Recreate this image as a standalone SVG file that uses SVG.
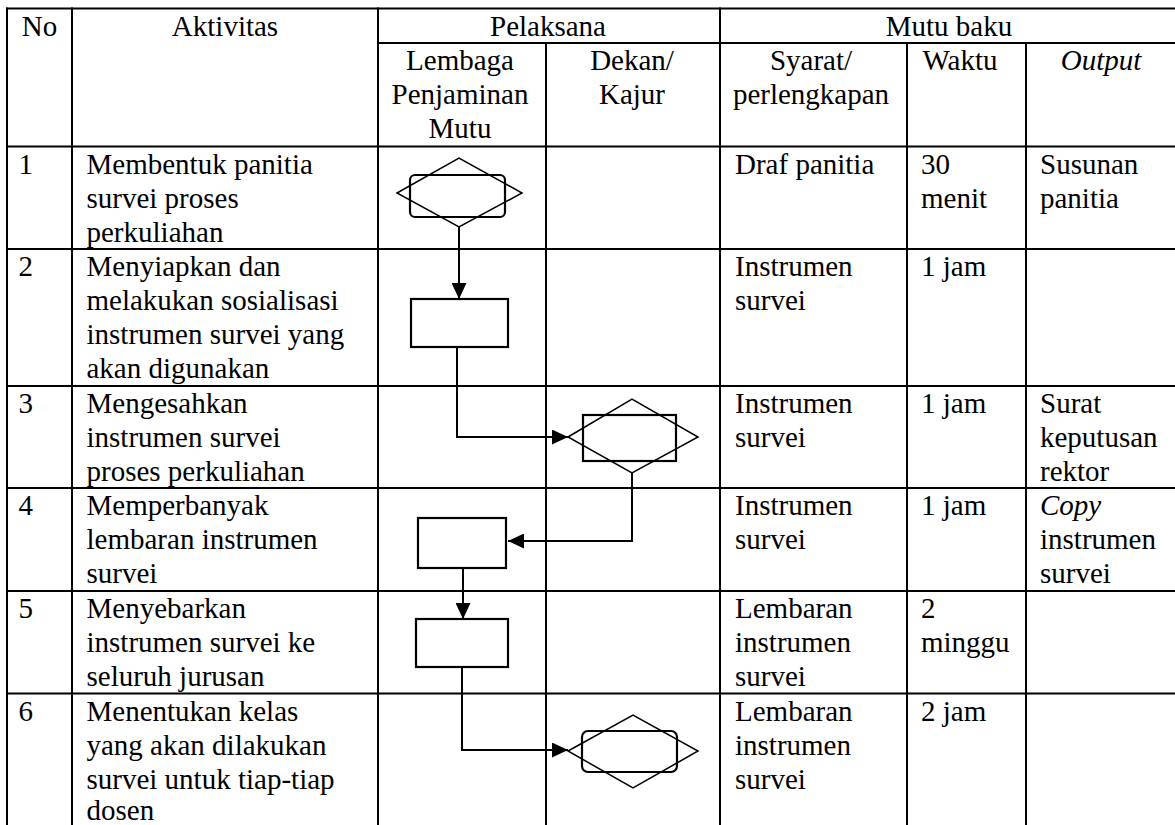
<svg xmlns="http://www.w3.org/2000/svg" width="1175" height="825" viewBox="0 0 1175 825" font-family="'Liberation Serif', 'Times New Roman', 'DejaVu Serif', serif">
<style>
text{font-family:'Liberation Serif','Times New Roman','DejaVu Serif',serif;font-size:29px;fill:#000}
.c{text-anchor:middle}
.i{font-style:italic}
.grid line{stroke:#000;stroke-width:2}
.sh{fill:none;stroke:#000;stroke-width:2.2}
.dm{fill:none;stroke:#000;stroke-width:1.5}
.cn{fill:none;stroke:#000;stroke-width:2}
</style>
<defs>
<marker id="ah" markerUnits="userSpaceOnUse" markerWidth="16" markerHeight="15" refX="16" refY="7.5" orient="auto">
<path d="M0,0 L16,7.5 L0,15 z" fill="#000"/>
</marker>
</defs>
<rect width="1175" height="825" fill="#fff"/>
<g id="table" class="grid">
<line x1="6" y1="8.5" x2="1175" y2="8.5"/>
<line x1="378" y1="43" x2="1175" y2="43"/>
<line x1="6" y1="146.5" x2="1175" y2="146.5"/>
<line x1="6" y1="249" x2="1175" y2="249"/>
<line x1="6" y1="386" x2="1175" y2="386"/>
<line x1="6" y1="488" x2="1175" y2="488"/>
<line x1="6" y1="591" x2="1175" y2="591"/>
<line x1="6" y1="693.5" x2="1175" y2="693.5"/>
<line x1="7" y1="7.5" x2="7" y2="825"/>
<line x1="72" y1="7.5" x2="72" y2="825"/>
<line x1="378" y1="7.5" x2="378" y2="825"/>
<line x1="546" y1="43" x2="546" y2="825"/>
<line x1="720" y1="7.5" x2="720" y2="825"/>
<line x1="907" y1="43" x2="907" y2="825"/>
<line x1="1026" y1="43" x2="1026" y2="825"/>
</g>
<g id="header">
<text x="39.5" y="35.5" class="c">No</text>
<text x="225" y="35.5" class="c">Aktivitas</text>
<text x="548" y="35.5" class="c">Pelaksana</text>
<text x="949" y="35.5" class="c">Mutu baku</text>
<text x="460" y="70" class="c">Lembaga</text>
<text x="460" y="104" class="c">Penjaminan</text>
<text x="460" y="138" class="c">Mutu</text>
<text x="632" y="70" class="c">Dekan/</text>
<text x="632" y="104" class="c">Kajur</text>
<text x="811" y="70" class="c">Syarat/</text>
<text x="811" y="104" class="c">perlengkapan</text>
<text x="960" y="70" class="c">Waktu</text>
<text x="1101" y="70" class="c i">Output</text>
</g>
<g id="row1">
<text x="18.5" y="173.5">1</text>
<text x="86.5" y="173.5">Membentuk panitia</text>
<text x="86.5" y="207.5">survei proses</text>
<text x="86.5" y="241.5">perkuliahan</text>
<text x="735" y="173.5">Draf panitia</text>
<text x="921" y="173.5">30</text>
<text x="921" y="207.5">menit</text>
<text x="1040" y="173.5">Susunan</text>
<text x="1040" y="207.5">panitia</text>
</g>
<g id="row2">
<text x="18.5" y="276">2</text>
<text x="86.5" y="276">Menyiapkan dan</text>
<text x="86.5" y="310">melakukan sosialisasi</text>
<text x="86.5" y="344">instrumen survei yang</text>
<text x="86.5" y="378">akan digunakan</text>
<text x="735" y="276">Instrumen</text>
<text x="735" y="310">survei</text>
<text x="921" y="276">1 jam</text>
</g>
<g id="row3">
<text x="18.5" y="413">3</text>
<text x="86.5" y="413">Mengesahkan</text>
<text x="86.5" y="447">instrumen survei</text>
<text x="86.5" y="481">proses perkuliahan</text>
<text x="735" y="413">Instrumen</text>
<text x="735" y="447">survei</text>
<text x="921" y="413">1 jam</text>
<text x="1040" y="413">Surat</text>
<text x="1040" y="447">keputusan</text>
<text x="1040" y="481">rektor</text>
</g>
<g id="row4">
<text x="18.5" y="515">4</text>
<text x="86.5" y="515">Memperbanyak</text>
<text x="86.5" y="549">lembaran instrumen</text>
<text x="86.5" y="583">survei</text>
<text x="735" y="515">Instrumen</text>
<text x="735" y="549">survei</text>
<text x="921" y="515">1 jam</text>
<text x="1040" y="515" class="i">Copy</text>
<text x="1040" y="549">instrumen</text>
<text x="1040" y="583">survei</text>
</g>
<g id="row5">
<text x="18.5" y="618">5</text>
<text x="86.5" y="618">Menyebarkan</text>
<text x="86.5" y="652">instrumen survei ke</text>
<text x="86.5" y="686">seluruh jurusan</text>
<text x="735" y="618">Lembaran</text>
<text x="735" y="652">instrumen</text>
<text x="735" y="686">survei</text>
<text x="921" y="618">2</text>
<text x="921" y="652">minggu</text>
</g>
<g id="row6">
<text x="18.5" y="720.5">6</text>
<text x="86.5" y="720.5">Menentukan kelas</text>
<text x="86.5" y="754.5">yang akan dilakukan</text>
<text x="86.5" y="788.5">survei untuk tiap-tiap</text>
<text x="86.5" y="820">dosen</text>
<text x="735" y="720.5">Lembaran</text>
<text x="735" y="754.5">instrumen</text>
<text x="735" y="788.5">survei</text>
<text x="921" y="720.5">2 jam</text>
</g>
<g id="connectors">
<path class="cn" d="M459,227 L459,299" marker-end="url(#ah)"/>
<path class="cn" d="M457,347 L457,437 L568,437" marker-end="url(#ah)"/>
<path class="cn" d="M632,473 L632,541 L508,541" marker-end="url(#ah)"/>
<path class="cn" d="M463,568 L463,619" marker-end="url(#ah)"/>
<path class="cn" d="M462,667 L462,750 L568,750" marker-end="url(#ah)"/>
</g>
<g id="node1">
<polygon class="dm" points="397,193 459,158 522,193 459,227"/>
<rect class="sh" x="410" y="175" width="95" height="42" rx="5"/>
</g>
<g id="node2">
<rect class="sh" x="411" y="299" width="97" height="48"/>
</g>
<g id="node3">
<polygon class="dm" points="568,437 632,399 698,437 632,473"/>
<rect class="sh" x="583" y="415" width="93" height="46"/>
</g>
<g id="node4">
<rect class="sh" x="418" y="518" width="88" height="50"/>
</g>
<g id="node5">
<rect class="sh" x="416" y="619" width="92" height="48"/>
</g>
<g id="node6">
<polygon class="dm" points="568,751 633,715 698,751 633,788"/>
<rect class="sh" x="582" y="731" width="95" height="41" rx="6"/>
</g>
</svg>
